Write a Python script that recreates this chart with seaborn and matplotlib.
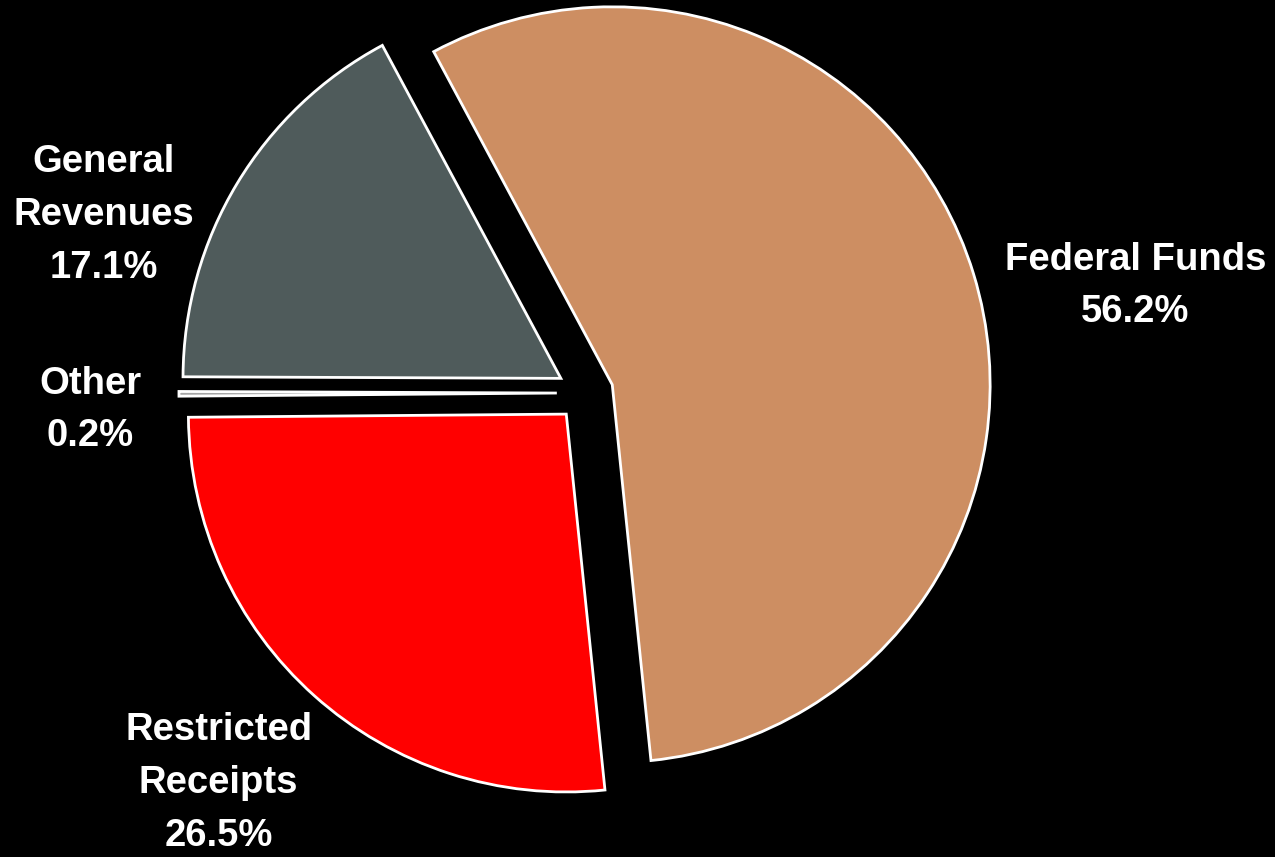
import matplotlib.pyplot as plt
import seaborn as sns

# Funding sources (percent of total)
sources = ["Federal Funds", "Restricted Receipts", "Other", "General Revenues"]
shares = [56.2, 26.5, 0.2, 17.1]
label_lines = ["Federal Funds", "Restricted\nReceipts", "Other", "General\nRevenues"]

colors = ["#CD8E62", "#FF0000", "#A6A6A6", "#4F5B5B"]

sns.set_theme(style="white")
plt.rcParams["font.family"] = ["Liberation Sans Narrow", "Liberation Sans", "DejaVu Sans"]

fig = plt.figure(figsize=(12.75, 8.57), dpi=100, facecolor="black")
ax = fig.add_axes([0, 0, 1, 1])
ax.set_facecolor("black")

ax.pie(
    shares,
    colors=colors,
    startangle=118.2,
    counterclock=False,
    explode=[0.075] * len(shares),
    wedgeprops={"edgecolor": "white", "linewidth": 2},
)

# label positions, in pie units
label_pos = [(1.456, 0.283), (-0.970, -1.032), (-1.310, -0.045), (-1.275, 0.471)]
for name, share, (x, y) in zip(label_lines, shares, label_pos):
    ax.text(x, y, f"{name}\n{share:.1f}%", ha="center", va="center",
            color="white", fontsize=27.5, fontweight="bold", linespacing=1.6)

ax.set_xlim(-1.548, 1.825)
ax.set_ylim(-1.228, 1.040)
ax.set_aspect("equal")
ax.axis("off")

fig.savefig("out.png", dpi=100, facecolor="black")
